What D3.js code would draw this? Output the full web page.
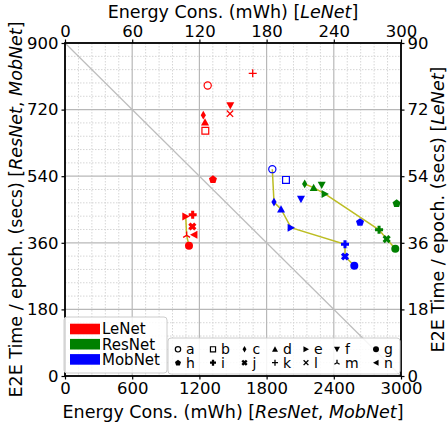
<!DOCTYPE html>
<html><head><meta charset="utf-8">
<script src="https://cdn.jsdelivr.net/npm/d3@7"></script>
<style>body{margin:0;background:#fff}svg{display:block}text{font-family:"DejaVu Sans",sans-serif}</style>
</head><body><svg id="c" width="448" height="425"></svg>
<script>
// ---------- data ----------
const markerKeys = ["a","b","c","d","e","f","g","h","i","j","k","l","m","n"];
const models = ["LeNet","ResNet","MobNet"];
const modelColors = ["#ff0000","#008000","#0000ff"];
// LeNet (top / right axes)
const lenetKeys   = ["a","b","c","d","e","f","g","h","i","j","k","l","m","n"];
const lenetEnergy = [127.4,125.3,123.5,125.0,107.8,147.6,110.7,132.1,114.0,113.7,167.6,147.3,108.6,115.2];
const lenetTime   = [78.5,66.3,70.5,68.6,43.1,73.1,35.2,53.2,43.6,40.4,81.8,70.9,38.0,38.2];
const lenetFront  = ["e","m","g"];
// ResNet (bottom / left axes)
const resnetKeys   = ["c","d","e","f","g","h","i","j"];
const resnetEnergy = [2140,2220,2321,2292,2949,2961,2804,2872];
const resnetTime   = [519,509,492,516,344,467,395,370];
const resnetFront  = ["c","d","e","i","j","g"];
// MobNet (bottom / left axes)
const mobnetKeys   = ["a","b","c","d","e","f","g","h","i","j"];
const mobnetEnergy = [1851,1973,1866,1929,2018,2107,2583,2634,2500,2500];
const mobnetTime   = [559,530,470,451,401,478,298,416,356,323];
const mobnetFront  = ["a","c","d","e","i","j","g"];
// ticks
const bottomTicks = [0,600,1200,1800,2400,3000];
const leftTicks   = [0,180,360,540,720,900];
const topTicks    = [0,60,120,180,240,300];
const rightTicks  = [0,18,36,54,72,90];

// ---------- layout ----------
const svg = d3.select("#c");
const L=65, R=401, T=43, B=376;
const x  = d3.scaleLinear().domain([0,3000]).range([L,R]);
const y  = d3.scaleLinear().domain([0,900]).range([B,T]);
const x2 = d3.scaleLinear().domain([0,300]).range([L,R]);
const y2 = d3.scaleLinear().domain([0,90]).range([B,T]);

// minor grid
const g = svg.append("g");
d3.range(0,3001,120).filter(v=>v%600).forEach(v=>{
  g.append("line").attr("x1",x(v)).attr("x2",x(v)).attr("y1",T).attr("y2",B)
   .attr("stroke","#d6d6d6").attr("stroke-width",1).attr("stroke-dasharray","1.5,1.5");
});
d3.range(0,901,36).filter(v=>v%180).forEach(v=>{
  g.append("line").attr("y1",y(v)).attr("y2",y(v)).attr("x1",L).attr("x2",R)
   .attr("stroke","#d6d6d6").attr("stroke-width",1).attr("stroke-dasharray","1.5,1.5");
});
// major grid
bottomTicks.forEach(v=>g.append("line").attr("x1",x(v)).attr("x2",x(v)).attr("y1",T).attr("y2",B).attr("stroke","#b8b8b8").attr("stroke-width",1.2));
leftTicks.forEach(v=>g.append("line").attr("y1",y(v)).attr("y2",y(v)).attr("x1",L).attr("x2",R).attr("stroke","#b8b8b8").attr("stroke-width",1.2));
// diagonal
g.append("line").attr("x1",x(0)).attr("y1",y(900)).attr("x2",x(3000)).attr("y2",y(0))
 .attr("stroke","#bdbdbd").attr("stroke-width",1.2);

// ---------- markers ----------
function mk(k, s){
  const p = d3.path();
  const poly = pts => { p.moveTo(pts[0][0]*s,pts[0][1]*s); pts.slice(1).forEach(q=>p.lineTo(q[0]*s,q[1]*s)); p.closePath(); };
  switch(k){
    case "a": p.arc(0,0,0.9*s,0,2*Math.PI); break;
    case "b": p.rect(-0.85*s,-0.85*s,1.7*s,1.7*s); break;
    case "c": poly([[0,-1.1],[0.65,0],[0,1.1],[-0.65,0]]); break;
    case "d": poly([[0,-1],[1,0.85],[-1,0.85]]); break;
    case "e": poly([[1,0],[-0.85,-1],[-0.85,1]]); break;
    case "f": poly([[0,1],[1,-0.85],[-1,-0.85]]); break;
    case "g": p.arc(0,0,1.0*s,0,2*Math.PI); break;
    case "h": { const pts=d3.range(5).map(i=>{const a=-Math.PI/2+i*2*Math.PI/5;return [1.05*Math.cos(a),1.05*Math.sin(a)+0.08];}); poly(pts); break; }
    case "i": { const w=0.38; poly([[-w,-1],[w,-1],[w,-w],[1,-w],[1,w],[w,w],[w,1],[-w,1],[-w,w],[-1,w],[-1,-w],[-w,-w]]); break; }
    case "j": { const w=0.38, c=Math.SQRT1_2; const base=[[-w,-1],[w,-1],[w,-w],[1,-w],[1,w],[w,w],[w,1],[-w,1],[-w,w],[-1,w],[-1,-w],[-w,-w]]; poly(base.map(([a,b])=>[(a-b)*c*1.05,(a+b)*c*1.05])); break; }
    case "k": p.moveTo(-s,0); p.lineTo(s,0); p.moveTo(0,-s); p.lineTo(0,s); break;
    case "l": p.moveTo(-0.8*s,-0.8*s); p.lineTo(0.8*s,0.8*s); p.moveTo(-0.8*s,0.8*s); p.lineTo(0.8*s,-0.8*s); break;
    case "m": p.moveTo(0,0); p.lineTo(0,-s); p.moveTo(0,0); p.lineTo(-0.87*s,0.5*s); p.moveTo(0,0); p.lineTo(0.87*s,0.5*s); break;
    case "n": poly([[-1,0],[0.85,-1],[0.85,1]]); break;
  }
  return p.toString();
}
function style(sel,k,color){
  if(k==="a"||k==="b") sel.attr("fill","none").attr("stroke",color).attr("stroke-width",1.2);
  else if(k==="k"||k==="l"||k==="m") sel.attr("fill","none").attr("stroke",color).attr("stroke-width",1.3);
  else sel.attr("fill",color).attr("stroke","none");
}

const sets = [
  {keys:lenetKeys, ex:lenetEnergy, ty:lenetTime, front:lenetFront, sx:x2, sy:y2, color:modelColors[0]},
  {keys:resnetKeys, ex:resnetEnergy, ty:resnetTime, front:resnetFront, sx:x, sy:y, color:modelColors[1]},
  {keys:mobnetKeys, ex:mobnetEnergy, ty:mobnetTime, front:mobnetFront, sx:x, sy:y, color:modelColors[2]}
];
const line = d3.line();
sets.forEach(st=>{
  const pts = st.front.map(k=>{const i=st.keys.indexOf(k);return [st.sx(st.ex[i]),st.sy(st.ty[i])];});
  svg.append("path").attr("d",line(pts)).attr("fill","none").attr("stroke","#bcbd22").attr("stroke-width",1.5);
});
sets.forEach(st=>{
  st.keys.forEach((k,i)=>{
    const s = svg.append("path").attr("d",mk(k,4))
      .attr("transform",`translate(${st.sx(st.ex[i])},${st.sy(st.ty[i])})`);
    style(s,k,st.color);
  });
});

// ---------- axes ----------
function fmtAxis(gg){
  gg.select(".domain").remove();
  gg.selectAll("text").attr("font-size",16.5).attr("font-family","DejaVu Sans").attr("fill","#000");
  gg.selectAll(".tick line").attr("stroke","#000").attr("stroke-width",1.2);
}
svg.append("g").attr("transform",`translate(0,${B})`).call(d3.axisBottom(x).tickValues(bottomTicks).tickSize(3.5).tickPadding(3).tickFormat(d3.format("d"))).call(fmtAxis);
svg.append("g").attr("transform",`translate(${L},0)`).call(d3.axisLeft(y).tickValues(leftTicks).tickSize(3.5).tickPadding(3).tickFormat(d3.format("d"))).call(fmtAxis);
svg.append("g").attr("transform",`translate(0,${T})`).call(d3.axisTop(x2).tickValues(topTicks).tickSize(3.5).tickPadding(3).tickFormat(d3.format("d"))).call(fmtAxis);
svg.append("g").attr("transform",`translate(${R},0)`).call(d3.axisRight(y2).tickValues(rightTicks).tickSize(3.5).tickPadding(3).tickFormat(d3.format("d"))).call(fmtAxis);
svg.append("rect").attr("x",L).attr("y",T).attr("width",R-L).attr("height",B-T)
  .attr("fill","none").attr("stroke","#000").attr("stroke-width",1.8);

// axis titles
function title(t, parts){
  parts.forEach(([s,it])=>t.append("tspan").text(s).attr("font-style",it?"italic":"normal"));
}
const fs=17.5;
title(svg.append("text").attr("x",(L+R)/2).attr("y",418).attr("text-anchor","middle").attr("font-size",fs),
  [["Energy Cons. (mWh) [",0],["ResNet",1],[", ",0],["MobNet",1],["]",0]]);
title(svg.append("text").attr("x",(L+R)/2).attr("y",18).attr("text-anchor","middle").attr("font-size",fs),
  [["Energy Cons. (mWh) [",0],["LeNet",1],["]",0]]);
title(svg.append("text").attr("transform",`translate(22,${(T+B)/2}) rotate(-90)`).attr("text-anchor","middle").attr("font-size",fs),
  [["E2E Time / epoch. (secs) [",0],["ResNet",1],[", ",0],["MobNet",1],["]",0]]);
title(svg.append("text").attr("transform",`translate(444,${(T+B)/2}) rotate(-90)`).attr("text-anchor","middle").attr("font-size",fs),
  [["E2E Time / epoch. (secs) [",0],["LeNet",1],["]",0]]);

// ---------- legends ----------
const lg1 = svg.append("g");
lg1.append("rect").attr("x",64).attr("y",317).attr("width",103).attr("height",56).attr("rx",3)
  .attr("fill","#fff").attr("fill-opacity",0.85).attr("stroke","#cccccc").attr("stroke-width",1);
models.forEach((m,i)=>{
  const cy = 329 + i*15.2;
  lg1.append("rect").attr("x",70).attr("y",cy-5.3).attr("width",30).attr("height",10.6).attr("fill",modelColors[i]);
  lg1.append("text").attr("x",102).attr("y",cy+5.4).attr("font-size",15).text(m);
});
const lg2 = svg.append("g");
lg2.append("rect").attr("x",168).attr("y",338).attr("width",232).attr("height",36).attr("rx",3)
  .attr("fill","#fff").attr("fill-opacity",0.85).attr("stroke","#cccccc").attr("stroke-width",1);
const colX = [178,213,244.5,275,306,337,376];
markerKeys.forEach((k,i)=>{
  const row = i<7?0:1, col = i%7;
  const cx = colX[col], cy = row===0?349.3:362.7;
  const s = lg2.append("path").attr("d",mk(k,3)).attr("transform",`translate(${cx},${cy})`);
  style(s,k,"#000");
  lg2.append("text").attr("x",cx+8).attr("y",cy+5).attr("font-size",14).text(k);
});
</script></body></html>
